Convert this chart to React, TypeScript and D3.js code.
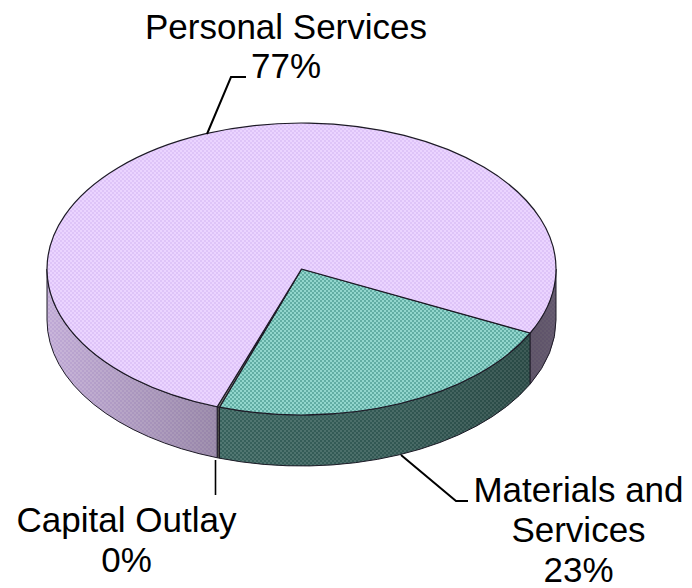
import React from "react";
import * as d3 from "d3";

const categories = ["Materials and Services", "Capital Outlay", "Personal Services"];
const values = [23, 0.15, 76.85];
const percentLabels = ["23%", "0%", "77%"];
const sliceLight = ["#92D6CD", "#8a8a80", "#EBD4FF"];
const sliceDark = ["#62ADA4", "#77776f", "#DEC4F8"];

const W = 692, H = 588;
const cx = 301.5, cy = 269, rx = 254.5, ry = 146, depth = 51;
const START = (116 * Math.PI) / 180;

const sx = d3.scaleLinear().domain([-1, 1]).range([cx - rx, cx + rx]);
const sy = d3.scaleLinear().domain([-1, 1]).range([cy - ry, cy + ry]);
const px = (a: number) => sx(Math.sin(a));
const py = (a: number, off = 0) => sy(-Math.cos(a)) + off;
const sweep = (a0: number, a1: number, off = 0) =>
  `A${rx},${ry} 0 ${a1 - a0 > Math.PI ? 1 : 0} 1 ${px(a1)},${py(a1, off)}`;

const arcs = d3.pie<number>().sort(null).startAngle(START).endAngle(START + 2 * Math.PI)(values);

const topPath = (a0: number, a1: number) =>
  `M${cx},${cy}L${px(a0)},${py(a0)}${sweep(a0, a1)}Z`;
const sidePath = (a0: number, a1: number) =>
  `M${px(a0)},${py(a0)}${sweep(a0, a1)}L${px(a1)},${py(a1, depth)}` +
  `A${rx},${ry} 0 0 0 ${px(a0)},${py(a0, depth)}Z`;

// clip a slice's angular span to the front half of the cylinder
function frontSpans(a0: number, a1: number): [number, number][] {
  const out: [number, number][] = [];
  for (const k of [0, 2 * Math.PI]) {
    const lo = Math.max(a0, Math.PI / 2 + k);
    const hi = Math.min(a1, (3 * Math.PI) / 2 + k);
    if (hi > lo) out.push([lo, hi]);
  }
  return out;
}

const LINE = "#1d1a26";
const font = "'Liberation Sans', Arial, sans-serif";

function Label({ x, y, children }: { x: number; y: number; children: string }) {
  return (
    <text x={x} y={y} textAnchor="middle" fontFamily={font} fontSize={35} fill="#000">
      {children}
    </text>
  );
}

export default function App() {
  return (
    <svg width={W} height={H} viewBox={`0 0 ${W} ${H}`} style={{ position: "absolute", left: 0, top: 0, background: "#fff" }}>
      <defs>
        {arcs.map((_, i) => (
          <pattern key={i} id={`chk${i}`} width={4} height={4} patternUnits="userSpaceOnUse">
            <rect width={4} height={4} fill={sliceLight[i]} />
            <rect width={2} height={2} fill={sliceDark[i]} />
            <rect x={2} y={2} width={2} height={2} fill={sliceDark[i]} />
          </pattern>
        ))}
        <linearGradient id="shade" gradientUnits="userSpaceOnUse" x1={cx - rx} x2={cx + rx} y1={0} y2={0}>
          <stop offset="0" stopColor="#000" stopOpacity={0.14} />
          <stop offset="0.33" stopColor="#000" stopOpacity={0.32} />
          <stop offset="0.34" stopColor="#000" stopOpacity={0.44} />
          <stop offset="0.7" stopColor="#000" stopOpacity={0.5} />
          <stop offset="0.95" stopColor="#000" stopOpacity={0.58} />
          <stop offset="1" stopColor="#000" stopOpacity={0.56} />
        </linearGradient>
      </defs>

      {/* sides */}
      {arcs.map((d, i) =>
        frontSpans(d.startAngle, d.endAngle).map(([a0, a1], j) => (
          <g key={`${i}-${j}`}>
            <path d={sidePath(a0, a1)} fill={`url(#chk${i})`} />
            <path d={sidePath(a0, a1)} fill="url(#shade)" stroke={LINE} strokeWidth={1} strokeLinejoin="round" />
          </g>
        ))
      )}

      {/* top faces */}
      {arcs.map((d, i) => (
        <path key={i} d={topPath(d.startAngle, d.endAngle)} fill={`url(#chk${i})`} stroke={LINE} strokeWidth={1.2} strokeLinejoin="round" />
      ))}

      {/* leader lines */}
      <g fill="none" stroke="#000" strokeWidth={2}>
        <path d="M207,134L231,77H246" />
        <path d="M215.5,460V495" strokeWidth={1.6} />
        <path d="M401,455L456,501H468" />
      </g>

      {/* labels */}
      <Label x={286} y={39}>{categories[2]}</Label>
      <Label x={286} y={78}>{percentLabels[2]}</Label>
      <Label x={578.5} y={502}>Materials and</Label>
      <Label x={578.5} y={542}>Services</Label>
      <Label x={578.5} y={582}>{percentLabels[0]}</Label>
      <Label x={126.5} y={531.5}>{categories[1]}</Label>
      <Label x={126.5} y={571.5}>{percentLabels[1]}</Label>
    </svg>
  );
}
